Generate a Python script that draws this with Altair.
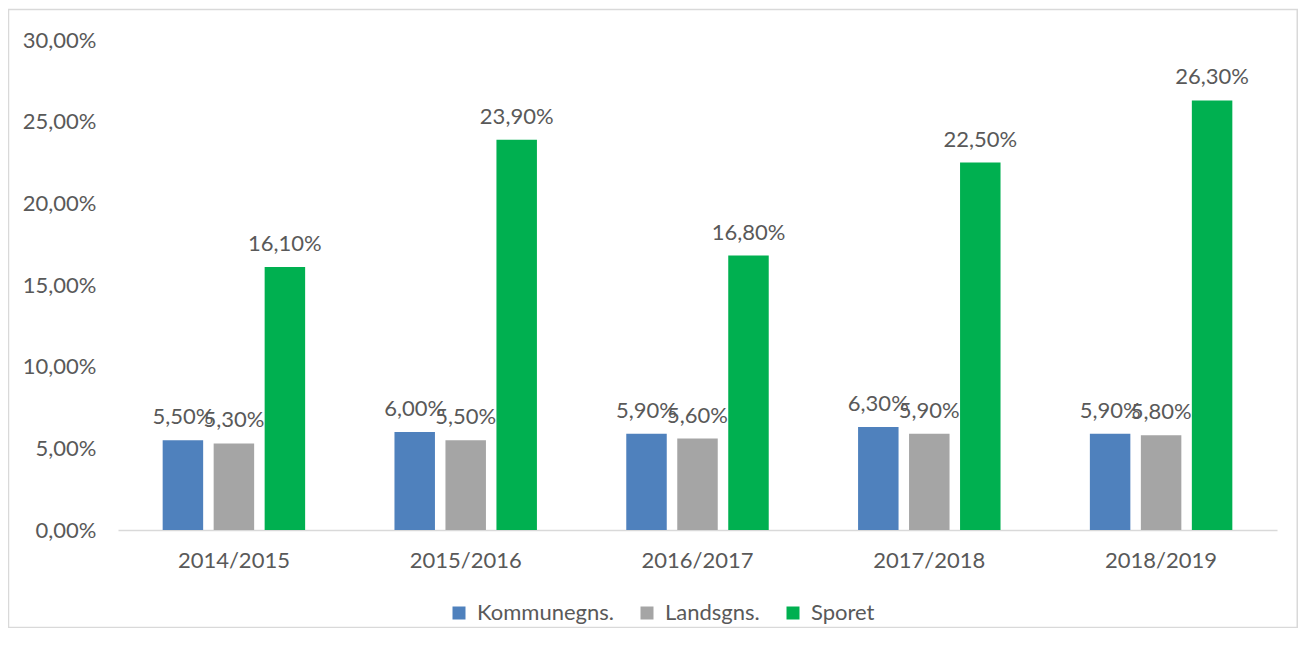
import altair as alt
import pandas as pd

years = ["2014/2015", "2015/2016", "2016/2017", "2017/2018", "2018/2019"]
series = ["Kommunegns.", "Landsgns.", "Sporet"]
kommune = [5.5, 6.0, 5.9, 6.3, 5.9]
lands = [5.3, 5.5, 5.6, 5.9, 5.8]
sporet = [16.1, 23.9, 16.8, 22.5, 26.3]
colors = ["#4F81BD", "#A5A5A5", "#00B050"]
y_ticks = [0.0, 0.05, 0.10, 0.15, 0.20, 0.25, 0.30]

rows = []
for s, vals in zip(series, [kommune, lands, sporet]):
    for yr, v in zip(years, vals):
        rows.append({"year": yr, "series": s, "value": v / 100,
                     "label": f"{v:.2f}%".replace(".", ",")})
df = pd.DataFrame(rows)

FONT = "Lato"
TXT = "#595959"
FS = 22

x = alt.X("year:N", sort=years, title=None,
          scale=alt.Scale(paddingInner=0, paddingOuter=0),
          axis=alt.Axis(labelAngle=0, ticks=False, domainColor="#D9D9D9", domainWidth=1.5,
                        labelPadding=20, labelFontSize=FS, labelColor=TXT, labelFont=FONT))
xo = alt.XOffset("series:N", sort=series,
                 scale=alt.Scale(paddingInner=0.206, paddingOuter=0.876))

bars = alt.Chart(df).mark_bar().encode(
    x=x, xOffset=xo,
    y=alt.Y("value:Q", title=None,
            scale=alt.Scale(domain=[0, 0.30], nice=False),
            axis=alt.Axis(values=y_ticks, grid=False, ticks=False, domain=False,
                          labelPadding=22, labelFontSize=FS, labelColor=TXT, labelFont=FONT,
                          labelExpr="replace(format(datum.value, '.2%'), '.', ',')")),
    color=alt.Color("series:N", sort=series,
                    scale=alt.Scale(domain=series, range=colors),
                    legend=alt.Legend(title=None, orient="none", direction="horizontal",
                                      legendX=330, legendY=562,
                                      symbolType="square", symbolSize=169,
                                      symbolStrokeWidth=0, labelOffset=7,
                                      columnPadding=22, labelFontSize=FS,
                                      labelColor=TXT, labelFont=FONT)),
)

labels = alt.Chart(df).mark_text(baseline="alphabetic", dy=-16, fontSize=FS,
                                 color=TXT, font=FONT).encode(
    x=alt.X("year:N", sort=years), xOffset=xo,
    y="value:Q", text="label:N",
)

frame_df = pd.DataFrame({"k": [0]})
frame = alt.Chart(frame_df).mark_rect(filled=False, stroke="#D9D9D9", strokeWidth=1.5).encode(
    x=alt.value(-109.5), x2=alt.value(1179.25),
    y=alt.value(-30.5), y2=alt.value(587.5),
)

chart = alt.layer(frame, bars, labels).properties(
    width=1159, height=490,
    autosize=alt.AutoSizeParams(type="none"),
    padding={"left": 110, "top": 32, "right": 21, "bottom": 98},
).configure_view(stroke=None)

chart.save("out.html", embed_options={"renderer": "svg", "actions": False})
